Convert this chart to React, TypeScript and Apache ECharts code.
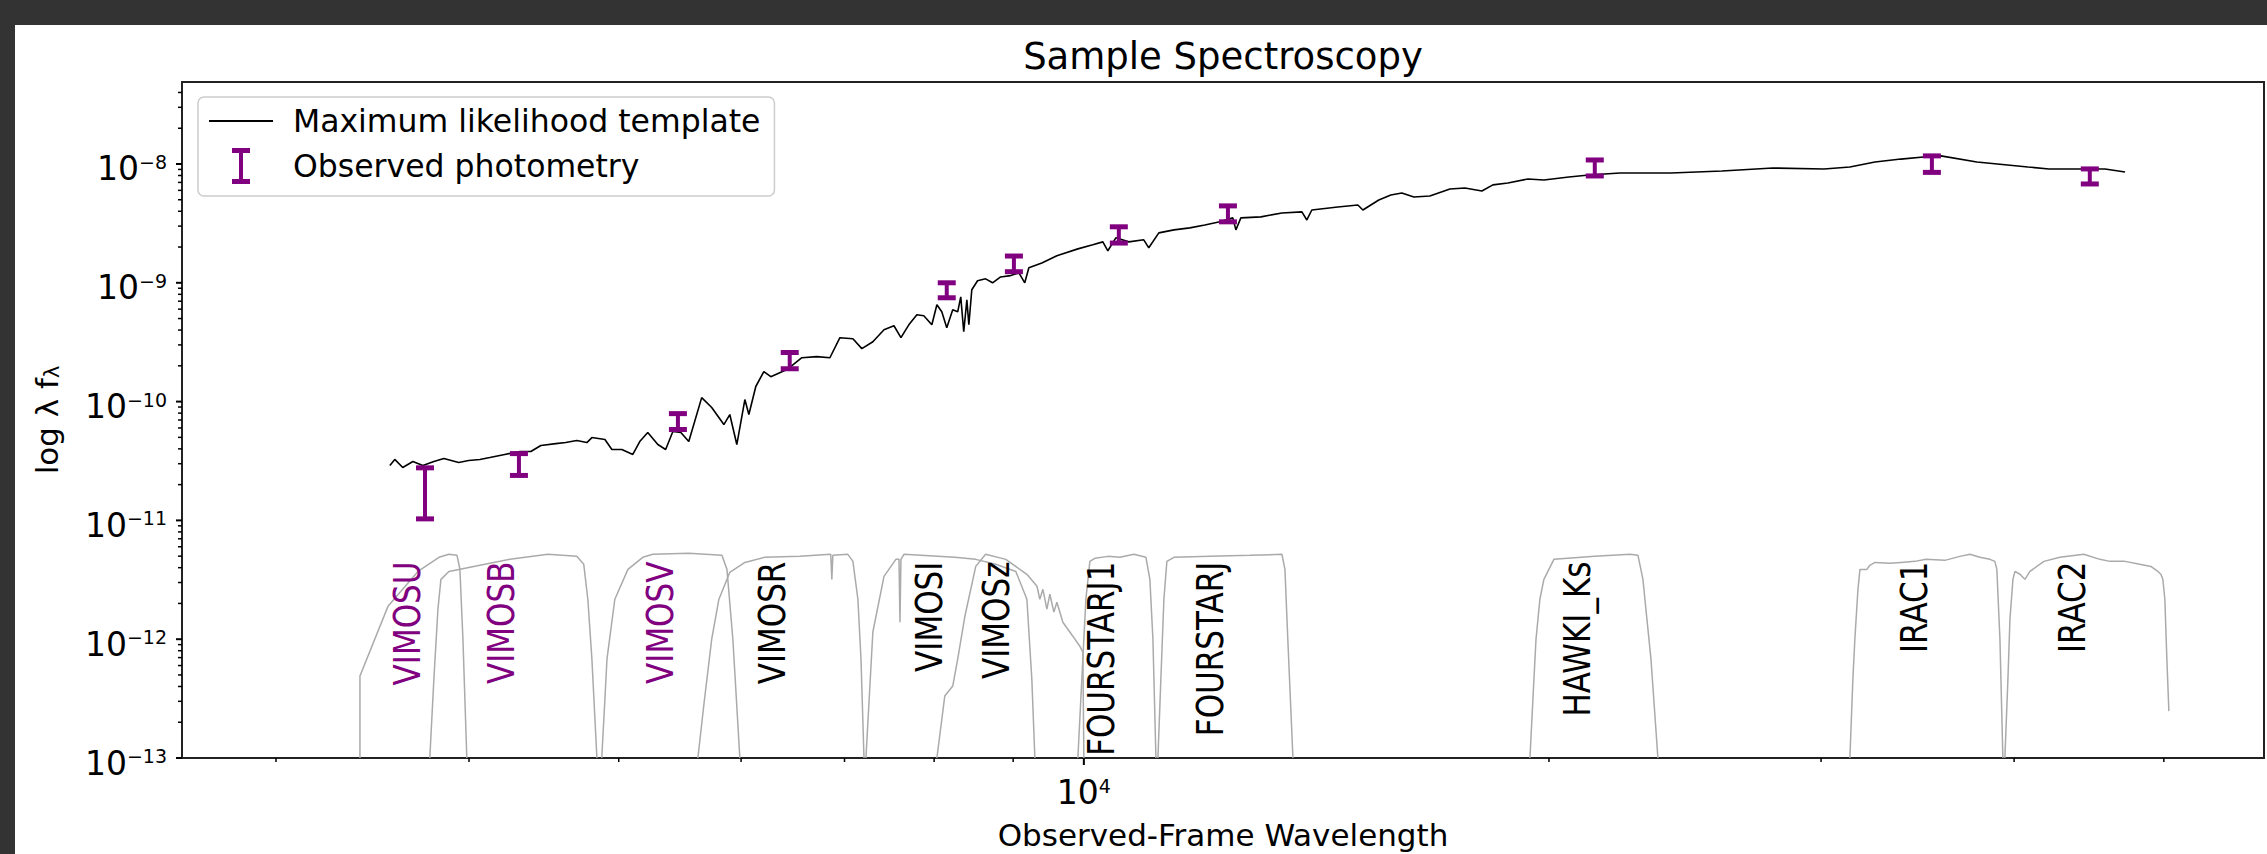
import React, { useEffect, useRef } from 'react';
import * as echarts from 'echarts';

const FONT = '"DejaVu Sans", "Liberation Sans", sans-serif';
const PURPLE = '#800080';
const FILTER_GREY = '#aaaaaa';

// axis ranges
const X_MIN = 2608;
const X_MAX = 58050;
const Y_MIN = 1e-13;
const Y_MAX = 4.9e-8;

// tick values
const X_MAJOR_TICKS = [10000];
const X_MINOR_TICKS = [3000, 4000, 5000, 6000, 7000, 8000, 9000, 20000, 30000, 40000, 50000];
const Y_MAJOR_TICKS = [1e-13, 1e-12, 1e-11, 1e-10, 1e-9, 1e-8];
const Y_MINOR_MANTISSAS = [2, 3, 4, 5, 6, 7, 8, 9];

// maximum likelihood template  [wavelength, lambda f_lambda]
const SPECTRUM: number[][] = [
  [3555, 2.9e-11], [3581, 3.26e-11], [3624, 2.79e-11], [3679, 3.13e-11], [3734, 2.9e-11],
  [3796, 3.13e-11], [3853, 3.32e-11], [3939, 3.07e-11], [3998, 3.19e-11], [4065, 3.26e-11],
  [4126, 3.38e-11], [4219, 3.59e-11], [4315, 3.8e-11], [4386, 3.8e-11], [4452, 4.27e-11],
  [4553, 4.43e-11], [4620, 4.52e-11], [4697, 4.7e-11], [4768, 4.52e-11], [4804, 4.98e-11],
  [4898, 4.8e-11], [4949, 3.95e-11], [5023, 3.95e-11], [5106, 3.59e-11], [5159, 4.61e-11],
  [5221, 5.49e-11], [5300, 4.35e-11], [5362, 3.95e-11], [5420, 5.6e-11], [5485, 5.49e-11],
  [5550, 4.61e-11], [5658, 1.08e-10], [5743, 8.91e-11], [5848, 6.41e-11], [5900, 7.78e-11],
  [5962, 4.35e-11], [6034, 1.04e-10], [6070, 7.78e-11], [6133, 1.34e-10], [6207, 1.79e-10],
  [6272, 1.62e-10], [6424, 1.86e-10], [6569, 2.34e-10], [6717, 2.39e-10], [6849, 2.34e-10],
  [6952, 3.45e-10], [7088, 3.38e-10], [7183, 2.79e-10], [7302, 3.19e-10], [7424, 4.03e-10],
  [7535, 4.35e-10], [7614, 3.45e-10], [7704, 4.43e-10], [7797, 5.38e-10], [7878, 5.28e-10],
  [7973, 4.43e-10], [8033, 6.53e-10], [8092, 5.7e-10], [8152, 4.19e-10], [8225, 5.93e-10],
  [8286, 5.7e-10], [8324, 7.62e-10], [8361, 3.87e-10], [8400, 7.19e-10], [8425, 4.43e-10],
  [8462, 8.73e-10], [8535, 1.04e-9], [8638, 1.08e-9], [8728, 1.0e-9], [8833, 1.12e-9],
  [8966, 1.15e-9], [9078, 1.21e-9], [9157, 1.0e-9], [9213, 1.34e-9], [9393, 1.47e-9],
  [9606, 1.69e-9], [9911, 1.93e-9], [10134, 2.09e-9], [10287, 2.21e-9], [10364, 1.86e-9],
  [10488, 2.39e-9], [10693, 2.21e-9], [10934, 2.3e-9], [11016, 1.97e-9], [11182, 2.63e-9],
  [11437, 2.79e-9], [11711, 2.9e-9], [11976, 3.07e-9], [12246, 3.26e-9], [12486, 3.52e-9],
  [12543, 2.79e-9], [12636, 3.52e-9], [13020, 3.59e-9], [13434, 3.87e-9], [13839, 3.95e-9],
  [13942, 3.38e-9], [14046, 4.1e-9], [14600, 4.35e-9], [15043, 4.52e-9], [15156, 4.1e-9],
  [15520, 4.98e-9], [15801, 5.48e-9], [16062, 5.7e-9], [16353, 5.28e-9], [16747, 5.38e-9],
  [17255, 6.16e-9], [17645, 6.28e-9], [18098, 5.93e-9], [18396, 6.67e-9], [18812, 6.92e-9],
  [19383, 7.48e-9], [19849, 7.34e-9], [20603, 7.78e-9], [21228, 8.09e-9], [22232, 8.4e-9],
  [23986, 8.4e-9], [25882, 8.73e-9], [27923, 9.25e-9], [30130, 9.08e-9], [31317, 9.44e-9],
  [32509, 1.04e-8], [33792, 1.1e-8], [35075, 1.15e-8], [35866, 1.17e-8], [37844, 1.04e-8],
  [40830, 9.44e-9], [42130, 9.08e-9], [45803, 9.08e-9], [47193, 8.57e-9],
];

// observed photometry
const FILTER_NAMES = ['VIMOSU', 'VIMOSB', 'VIMOSV', 'VIMOSR', 'VIMOSI', 'VIMOSz', 'FOURSTARJ1', 'FOURSTARJ', 'HAWKI_Ks', 'IRAC1', 'IRAC2'];
const FILTER_LABEL_COLORS = [PURPLE, PURPLE, PURPLE, '#000', '#000', '#000', '#000', '#000', '#000', '#000', '#000'];
const PHOT_WAVE = [3746, 4309, 5461, 6451, 8152, 9010, 10535, 12395, 21413, 35388, 44777];
const PHOT_FLUX = [1.9e-11, 3.02e-11, 6.87e-11, 2.24e-10, 8.74e-10, 1.46e-9, 2.56e-9, 3.85e-9, 9.37e-9, 1.01e-8, 7.94e-9];
const PHOT_ERR = [0.87e-11, 0.63e-11, 1.05e-11, 0.35e-10, 1.26e-10, 0.22e-9, 0.4e-9, 0.59e-9, 1.44e-9, 0.16e-8, 1.15e-9];
const LABEL_Y = 4.5e-12;

// scaled filter transmission curves
const CURVE_VIMOSU = [[3400, 1e-13], [3400, 4.9e-13], [3545, 1.89e-12], [3707, 3.72e-12], [3825, 4.89e-12], [3882, 5.18e-12], [3929, 5.08e-12], [3946, 3.9e-12], [3964, 1.0e-12], [3987, 1e-13]];
const CURVE_VIMOSB = [[3773, 1e-13], [3796, 4.61e-13], [3819, 1.79e-12], [3836, 3.19e-12], [3882, 3.72e-12], [4096, 4.27e-12], [4252, 4.7e-12], [4499, 5.18e-12], [4697, 4.98e-12], [4746, 4.27e-12], [4775, 2.17e-12], [4804, 6.79e-13], [4840, 1e-13]];
const CURVE_VIMOSV = [[4875, 1e-13], [4898, 3.13e-13], [4913, 6.79e-13], [4971, 2.17e-12], [5069, 3.87e-12], [5182, 4.89e-12], [5260, 5.18e-12], [5550, 5.28e-12], [5831, 5.08e-12], [5875, 3.87e-12], [5927, 1.0e-12], [5989, 1e-13]];
const CURVE_VIMOSR = [[5626, 1e-13], [5675, 2.74e-13], [5743, 1.0e-12], [5805, 2.17e-12], [5900, 3.66e-12], [6034, 4.43e-12], [6215, 4.89e-12], [6549, 4.98e-12], [6858, 5.18e-12], [6869, 3.19e-12], [6879, 5.08e-12], [7035, 5.18e-12], [7088, 4.52e-12], [7141, 2.17e-12], [7174, 6.79e-13], [7206, 1e-13]];
const CURVE_VIMOSI = [[7227, 1e-13], [7302, 1.15e-12], [7424, 3.38e-12], [7557, 4.7e-12], [7592, 4.7e-12], [7603, 1.39e-12], [7614, 4.7e-12], [7648, 5.18e-12], [8250, 4.89e-12], [8512, 4.7e-12], [8770, 4.27e-12], [9036, 3.72e-12], [9186, 2.17e-12], [9254, 4.61e-13], [9296, 1e-13]];
const CURVE_VIMOSZ = [[8033, 1e-13], [8128, 3.32e-13], [8225, 4.03e-13], [8286, 6.79e-13], [8375, 1.56e-12], [8512, 4.1e-12], [8638, 5.18e-12], [8902, 4.7e-12], [9186, 3.52e-12], [9325, 2.79e-12], [9365, 2.17e-12], [9408, 2.63e-12], [9464, 1.79e-12], [9506, 2.39e-12], [9563, 1.69e-12], [9606, 2.05e-12], [9692, 1.39e-12], [9837, 1.06e-12], [9940, 8.73e-13], [9985, 7.78e-13], [10000, 1e-13]];
const CURVE_FOURSTARJ1 = [[9911, 1e-13], [9970, 4.61e-13], [10030, 2.17e-12], [10090, 4.52e-12], [10165, 4.8e-12], [10364, 4.98e-12], [10551, 4.89e-12], [10774, 5.18e-12], [10969, 4.89e-12], [11034, 3.19e-12], [11084, 1.0e-12], [11134, 1e-13]];
const CURVE_FOURSTARJ = [[11167, 1e-13], [11216, 4.61e-13], [11267, 2.17e-12], [11317, 4.52e-12], [11437, 4.89e-12], [12066, 4.98e-12], [12806, 5.08e-12], [13434, 5.18e-12], [13494, 3.87e-12], [13552, 1.0e-12], [13656, 1e-13]];
const CURVE_HAWKI_KS = [[19441, 1e-13], [19527, 3.13e-13], [19617, 1.0e-12], [19731, 2.17e-12], [19849, 3.19e-12], [20148, 4.7e-12], [21413, 4.98e-12], [22565, 5.18e-12], [22837, 5.08e-12], [23006, 3.19e-12], [23144, 1.47e-12], [23283, 6.79e-13], [23525, 1e-13]];
const CURVE_IRAC1 = [[31317, 1e-13], [31457, 4.61e-13], [31550, 1.0e-12], [31696, 2.63e-12], [31790, 3.87e-12], [32122, 3.87e-12], [32263, 4.19e-12], [32509, 4.43e-12], [33244, 4.35e-12], [33792, 4.43e-12], [34507, 4.52e-12], [35075, 4.7e-12], [36081, 4.61e-12], [36897, 4.98e-12], [37453, 5.18e-12], [38010, 4.89e-12], [38583, 4.7e-12], [38869, 4.52e-12], [38985, 3.87e-12], [39165, 1.0e-12], [39337, 1e-13]];
const CURVE_IRAC2 = [[39454, 1e-13], [39634, 4.61e-13], [39753, 1.47e-12], [39931, 3.19e-12], [40051, 3.72e-12], [40349, 3.52e-12], [40651, 3.19e-12], [40953, 3.72e-12], [41818, 4.52e-12], [42823, 4.89e-12], [44377, 5.18e-12], [45452, 4.7e-12], [46137, 4.52e-12], [47181, 4.52e-12], [48246, 4.27e-12], [49041, 4.1e-12], [49561, 3.72e-12], [49778, 3.52e-12], [49927, 3.19e-12], [50077, 2.17e-12], [50227, 6.79e-13], [50377, 2.48e-13]];
const FILTER_CURVES = [CURVE_VIMOSU, CURVE_VIMOSB, CURVE_VIMOSV, CURVE_VIMOSR, CURVE_VIMOSI, CURVE_VIMOSZ, CURVE_FOURSTARJ1, CURVE_FOURSTARJ, CURVE_HAWKI_KS, CURVE_IRAC1, CURVE_IRAC2];

const IBEAM = 'path://M0,0H18V5H11V31H18V36H0V31H7V5H0Z';
const LINE_ICON = 'path://M0,0H64V2H0Z';

const W = 2267;
const H = 854;

function powLabel(v: number): string {
  if (!(v > 0)) return '';
  const e = Math.round(Math.log10(v));
  if (Math.abs(Math.log10(v) - e) > 1e-6) return '';
  const exp = e < 0 ? '\u2212' + String(-e) : String(e);
  return '{b|10}{s|' + exp + '}';
}

const TICK_RICH = {
  b: { fontFamily: FONT, fontSize: 33, lineHeight: 33, color: '#000' },
  s: { fontFamily: FONT, fontSize: 19, lineHeight: 19, color: '#000', verticalAlign: 'top' },
};

function tickSeries(name: string, data: number[][], horizontalAxis: boolean, len: number, width: number) {
  return {
    type: 'custom',
    name,
    coordinateSystem: 'cartesian2d',
    silent: true,
    clip: false,
    z: 6,
    data,
    renderItem: (params: any, api: any) => {
      const p = api.coord([api.value(0), api.value(1)]);
      const shape = horizontalAxis
        ? { x1: p[0], y1: p[1], x2: p[0], y2: p[1] + len }
        : { x1: p[0] - len, y1: p[1], x2: p[0], y2: p[1] };
      return { type: 'line', shape, style: { stroke: '#000', lineWidth: width } };
    },
  };
}

export default function App() {
  const ref = useRef<HTMLDivElement>(null);

  useEffect(() => {
    if (!ref.current) return;
    const chart = echarts.init(ref.current, null, { renderer: 'svg', width: W, height: H });

    const yMinor: number[] = [];
    Y_MAJOR_TICKS.forEach((d) => {
      Y_MINOR_MANTISSAS.forEach((m) => {
        const v = m * d;
        if (v <= Y_MAX) yMinor.push(v);
      });
    });

    const filterSeries = FILTER_CURVES.map((curve, i) => ({
      type: 'line',
      name: FILTER_NAMES[i] + ' transmission',
      data: curve,
      symbol: 'none',
      silent: true,
      z: 2,
      lineStyle: { color: FILTER_GREY, width: 1.5 },
      itemStyle: { color: FILTER_GREY },
    }));

    const option: any = {
      animation: false,
      backgroundColor: 'transparent',
      graphic: {
        elements: [
          { type: 'rect', z: -10, silent: true, shape: { x: 15, y: 25, width: W - 15, height: H - 25 }, style: { fill: '#ffffff' } },
        ],
      },
      title: {
        text: 'Sample Spectroscopy',
        left: 1223,
        top: 38,
        textAlign: 'center',
        textVerticalAlign: 'top',
        padding: 0,
        textStyle: { fontFamily: FONT, fontSize: 37, lineHeight: 37, fontWeight: 'normal', color: '#000' },
      },
      legend: {
        show: true,
        left: 198,
        top: 97,
        orient: 'vertical',
        itemGap: 11,
        itemWidth: 64,
        itemHeight: 36,
        padding: [8, 14, 12, 11],
        borderColor: '#cccccc',
        borderWidth: 1.5,
        borderRadius: 6,
        backgroundColor: 'rgba(255,255,255,0.8)',
        selectedMode: false,
        textStyle: { fontFamily: FONT, fontSize: 31.5, color: '#000', padding: [0, 0, 0, 15] },
        data: [
          { name: 'Maximum likelihood template', icon: LINE_ICON, itemStyle: { color: '#000' } },
          { name: 'Observed photometry', icon: IBEAM },
        ],
      },
      grid: {
        left: 182,
        top: 82,
        right: W - 2264,
        bottom: H - 758,
        show: true,
        borderColor: '#222',
        borderWidth: 2,
        backgroundColor: 'transparent',
        containLabel: false,
        outerBoundsMode: 'none',
      },
      xAxis: {
        type: 'log',
        logBase: 10,
        min: X_MIN,
        max: X_MAX,
        name: 'Observed-Frame Wavelength',
        nameLocation: 'middle',
        nameGap: 61,
        nameTextStyle: { fontFamily: FONT, fontSize: 31, lineHeight: 31, color: '#000' },
        axisLine: { show: false },
        axisTick: { show: false },
        minorTick: { show: false },
        splitLine: { show: false },
        minorSplitLine: { show: false },
        axisLabel: { margin: 18, formatter: powLabel, rich: TICK_RICH, color: '#000' },
      },
      yAxis: {
        type: 'log',
        logBase: 10,
        min: Y_MIN,
        max: Y_MAX,
        name: '{a|log \u03bb f}{s|\u03bb}',
        nameLocation: 'middle',
        nameGap: 120,
        nameRotate: 90,
        nameTextStyle: {
          fontFamily: FONT,
          fontSize: 31,
          lineHeight: 31,
          color: '#000',
          rich: {
            a: { fontFamily: FONT, fontSize: 31, lineHeight: 31, color: '#000' },
            s: { fontFamily: FONT, fontSize: 21, lineHeight: 21, color: '#000', verticalAlign: 'bottom' },
          },
        },
        axisLine: { show: false },
        axisTick: { show: false },
        minorTick: { show: false },
        splitLine: { show: false },
        minorSplitLine: { show: false },
        axisLabel: { margin: 15, formatter: powLabel, rich: TICK_RICH, color: '#000', padding: [10, 0, 0, 0] },
      },
      series: [
        ...filterSeries,
        {
          type: 'line',
          name: 'Maximum likelihood template',
          data: SPECTRUM,
          symbol: 'none',
          showSymbol: false,
          z: 3,
          lineStyle: { color: '#000', width: 1.6 },
          itemStyle: { color: '#000' },
        },
        {
          type: 'custom',
          name: 'Observed photometry',
          coordinateSystem: 'cartesian2d',
          z: 4,
          itemStyle: { color: PURPLE },
          encode: { x: 0, y: 1 },
          data: PHOT_WAVE.map((w, i) => [w, PHOT_FLUX[i], PHOT_ERR[i]]),
          renderItem: (params: any, api: any) => {
            const w = api.value(0);
            const f = api.value(1);
            const e = api.value(2);
            const top = api.coord([w, f + e]);
            const bot = api.coord([w, f - e]);
            const stem = { stroke: PURPLE, lineWidth: 4 };
            const cap = { stroke: PURPLE, lineWidth: 5 };
            return {
              type: 'group',
              children: [
                { type: 'line', shape: { x1: top[0], y1: top[1], x2: bot[0], y2: bot[1] }, style: stem },
                { type: 'line', shape: { x1: top[0] - 9, y1: top[1], x2: top[0] + 9, y2: top[1] }, style: cap },
                { type: 'line', shape: { x1: bot[0] - 9, y1: bot[1], x2: bot[0] + 9, y2: bot[1] }, style: cap },
              ],
            };
          },
        },
        {
          type: 'custom',
          name: 'filter labels',
          coordinateSystem: 'cartesian2d',
          silent: true,
          clip: false,
          z: 3,
          data: PHOT_WAVE.map((w) => [w, LABEL_Y]),
          renderItem: (params: any, api: any) => {
            const p = api.coord([api.value(0), api.value(1)]);
            const i = params.dataIndex;
            return {
              type: 'text',
              x: p[0] - 18,
              y: p[1],
              rotation: Math.PI / 2,
              scaleX: 1,
              scaleY: 1.2,
              style: {
                text: FILTER_NAMES[i],
                fill: FILTER_LABEL_COLORS[i],
                fontSize: 31,
                fontFamily: FONT,
                align: 'right',
                verticalAlign: 'middle',
              },
            };
          },
        },
        tickSeries('x major ticks', X_MAJOR_TICKS.map((v) => [v, Y_MIN]), true, 7, 2),
        tickSeries('x minor ticks', X_MINOR_TICKS.map((v) => [v, Y_MIN]), true, 4, 1.5),
        tickSeries('y major ticks', Y_MAJOR_TICKS.map((v) => [X_MIN, v]), false, 6, 2),
        tickSeries('y minor ticks', yMinor.map((v) => [X_MIN, v]), false, 4, 1.5),
      ],
    };

    chart.setOption(option);
    return () => chart.dispose();
  }, []);

  return (
    <div
      ref={ref}
      style={{ position: 'fixed', left: 0, top: 0, width: W, height: H, background: '#333333' }}
    />
  );
}
